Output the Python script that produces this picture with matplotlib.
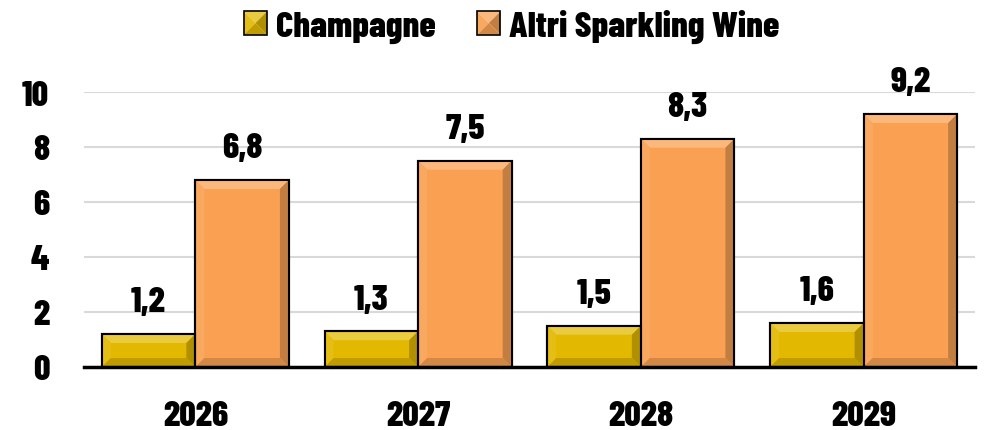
import matplotlib
matplotlib.use("Agg")
import matplotlib.pyplot as plt
from matplotlib.patches import Polygon, Rectangle
from matplotlib.legend_handler import HandlerBase
from matplotlib import font_manager as fm
import numpy as np

years = ["2026", "2027", "2028", "2029"]
champagne = [1.2, 1.3, 1.5, 1.6]
altri = [6.8, 7.5, 8.3, 9.2]
series_names = ["Champagne", "Altri Sparkling Wine"]
yticks = [0, 2, 4, 6, 8, 10]

names = {f.name for f in fm.fontManager.ttflist}
fam = "DejaVu Sans"
for cand in ["Barlow Condensed", "Barlow Semi Condensed", "Roboto Condensed",
             "Fira Sans Condensed", "Pragati Narrow", "Liberation Sans Narrow"]:
    if cand in names:
        fam = cand
        break
plt.rcParams['font.family'] = [fam, 'DejaVu Sans']
WT = 800
plt.rcParams['font.weight'] = WT

col_gold = "#E2B800"
col_orange = "#F9A052"

def shade(c, f):
    rgb = np.array(matplotlib.colors.to_rgb(c))
    if f >= 0:
        rgb = rgb + (1 - rgb) * f
    else:
        rgb = rgb * (1 + f)
    return tuple(np.clip(rgb, 0, 1))

fig = plt.figure(figsize=(9.84, 4.31), dpi=100)
ax = fig.add_axes([84/984, 1-368/431, 891/984, (368-93)/431])
x = np.arange(len(years))
w = 0.42
b1 = ax.bar(x - w/2, champagne, w, color=col_gold, edgecolor="black", linewidth=1.5, zorder=3)
b2 = ax.bar(x + w/2, altri, w, color=col_orange, edgecolor="black", linewidth=1.5, zorder=3)
ax.set_xlim(-0.5, len(years) - 0.5)
ax.set_ylim(0, 10)
ax.set_yticks(yticks)
ax.set_yticklabels([str(t) for t in yticks], fontweight=WT)
ax.set_xticks(x)
ax.set_xticklabels(years, fontweight=WT)
ax.tick_params(axis='y', length=0, pad=25, labelsize=26)
ax.tick_params(axis='x', length=0, pad=23.5, labelsize=26)
for s in ["top", "right", "left"]:
    ax.spines[s].set_visible(False)
ax.spines["bottom"].set_linewidth(2.5)
ax.spines["bottom"].set_zorder(5)
ax.grid(axis='y', color="#d9d9d9", linewidth=1.5, zorder=0)
ax.set_axisbelow(True)

def bevel_polys(x0, y0, x1, y1, d, base):
    d = min(d, (x1-x0)/2, (y1-y0)/2)
    top = [(x0, y1), (x1, y1), (x1-d, y1-d), (x0+d, y1-d)]
    bot = [(x0, y0), (x1, y0), (x1-d, y0+d), (x0+d, y0+d)]
    left = [(x0, y0), (x0, y1), (x0+d, y1-d), (x0+d, y0+d)]
    right = [(x1, y0), (x1, y1), (x1-d, y1-d), (x1-d, y0+d)]
    return [(top, shade(base, 0.25)), (left, shade(base, 0.08)),
            (right, shade(base, -0.22)), (bot, shade(base, -0.15))]

fig.canvas.draw()
for bars, base in ((b1, col_gold), (b2, col_orange)):
    for p in bars:
        bb = p.get_window_extent()
        for pts, c in bevel_polys(bb.x0+1, bb.y0+1, bb.x1-1, bb.y1-1, 8, base):
            poly = Polygon(pts, closed=True, facecolor=c, edgecolor='none',
                           transform=None, zorder=3.5)
            ax.add_artist(poly)
        r = Rectangle((bb.x0, bb.y0), bb.width, bb.height, facecolor='none',
                      edgecolor='black', linewidth=1.5, transform=None, zorder=4)
        ax.add_artist(r)

for bars, vals in ((b1, champagne), (b2, altri)):
    for p, v in zip(bars, vals):
        ax.annotate(f"{v:.1f}".replace(".", ","), (p.get_x() + p.get_width()/2, v),
                    xytext=(0, 12), textcoords="offset points", ha="center", va="bottom",
                    fontsize=26, fontweight=WT, zorder=6, annotation_clip=False)

class BevelHandler(HandlerBase):
    def __init__(self, base):
        super().__init__()
        self.base = base
    def create_artists(self, legend, orig_handle, xdescent, ydescent, width, height, fontsize, trans):
        s = height * 0.9
        x0 = (width - s) / 2 - xdescent
        y0 = (height - s) / 2 - ydescent
        arts = []
        d = s / 2.0
        for pts, c in bevel_polys(x0, y0, x0 + s, y0 + s, d, self.base):
            arts.append(Polygon(pts, closed=True, facecolor=c, edgecolor='none', transform=trans))
        arts.append(Rectangle((x0, y0), s, s, facecolor='none', edgecolor='black', linewidth=1.2, transform=trans))
        return arts

h1 = Rectangle((0, 0), 1, 1)
h2 = Rectangle((0, 0), 1, 1)
leg = fig.legend([h1, h2], series_names, loc="center", bbox_to_anchor=(511/984, 1-27/431),
                 ncol=2, frameon=False, prop={'size': 26.5, 'weight': WT},
                 handler_map={h1: BevelHandler(col_gold), h2: BevelHandler(col_orange)},
                 handlelength=0.7, handletextpad=0.2, columnspacing=1.1)

fig.savefig("out.png", dpi=100)
